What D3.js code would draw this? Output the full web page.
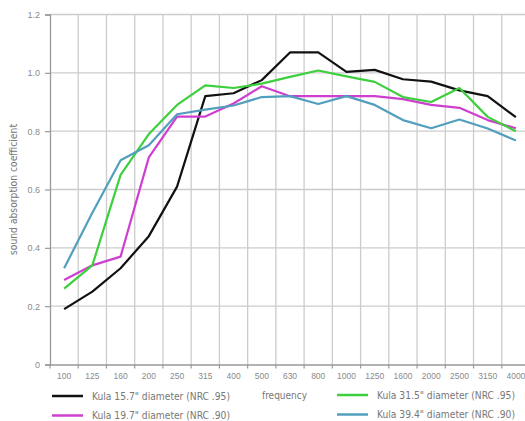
<!DOCTYPE html>
<html>
<head>
<meta charset="utf-8">
<script src="https://cdn.jsdelivr.net/npm/d3@7"></script>
<style>
  body { margin: 0; background: #fff; }
  svg { display: block; font-family: "DejaVu Sans", sans-serif; font-stretch: condensed; }
</style>
</head>
<body>
<svg id="chart" width="525" height="421"></svg>
<script>
const frequencies = ['100', '125', '160', '200', '250', '315', '400', '500', '630', '800', '1000', '1250', '1600', '2000', '2500', '3150', '4000'];
const yTicks = [0, 0.2, 0.4, 0.6, 0.8, 1.0, 1.2];

const kula157 = [0.19, 0.25, 0.33, 0.44, 0.61, 0.92, 0.93, 0.975, 1.07, 1.07, 1.003, 1.01, 0.978, 0.97, 0.94, 0.92, 0.848];
const kula197 = [0.29, 0.34, 0.37, 0.71, 0.85, 0.85, 0.895, 0.954, 0.92, 0.92, 0.92, 0.92, 0.91, 0.89, 0.88, 0.838, 0.81];
const kula315 = [0.26, 0.34, 0.65, 0.79, 0.89, 0.957, 0.948, 0.963, 0.986, 1.008, 0.988, 0.969, 0.917, 0.90, 0.948, 0.849, 0.80];
const kula394 = [0.33, 0.52, 0.70, 0.752, 0.858, 0.874, 0.888, 0.917, 0.92, 0.893, 0.92, 0.89, 0.838, 0.81, 0.84, 0.809, 0.768];

const seriesNames = ['Kula 15.7" diameter (NRC .95)', 'Kula 19.7" diameter (NRC .90)', 'Kula 31.5" diameter (NRC .95)', 'Kula 39.4" diameter (NRC .90)'];
const seriesColors = ['#111111', '#cf3fcf', '#3dcf3d', '#529fbd'];

const series = [kula157, kula197, kula315, kula394].map((values, i) => ({
    name: seriesNames[i],
    color: seriesColors[i],
    values: values
}));

const margin = {top: 14.5, left: 50, bottom: 364.5, right: 530};

const svg = d3.select('#chart');

const x = d3.scaleBand()
    .domain(frequencies)
    .range([margin.left, margin.right]);

const y = d3.scaleLinear()
    .domain([0, 1.2])
    .range([margin.bottom, margin.top]);

// horizontal grid
svg.append('g')
    .selectAll('line')
    .data(yTicks.slice(1))
    .join('line')
    .attr('x1', margin.left)
    .attr('x2', 525)
    .attr('y1', d => y(d))
    .attr('y2', d => y(d))
    .attr('stroke', '#cccccc')
    .attr('stroke-width', 1.3);

// vertical grid
svg.append('g')
    .selectAll('line')
    .data(frequencies.slice(1))
    .join('line')
    .attr('x1', d => x(d))
    .attr('x2', d => x(d))
    .attr('y1', margin.top)
    .attr('y2', margin.bottom)
    .attr('stroke', '#cccccc')
    .attr('stroke-width', 1.3);

// y axis
svg.append('g')
    .attr('transform', `translate(${margin.left},0)`)
    .call(d3.axisLeft(y)
        .tickValues(yTicks)
        .tickSize(5)
        .tickPadding(5)
        .tickFormat(d => d === 0 ? '0' : d3.format('.1f')(d)))
    .call(g => g.select('.domain').attr('stroke', '#999999').attr('stroke-width', 1.3))
    .call(g => g.selectAll('.tick line').attr('stroke', '#999999').attr('stroke-width', 1.2))
    .call(g => g.selectAll('.tick text').attr('fill', '#8a8a8a').attr('font-size', 9));

// x axis
svg.append('g')
    .attr('transform', `translate(0,${margin.bottom})`)
    .call(d3.axisBottom(x).tickSize(0).tickPadding(8))
    .call(g => g.select('.domain').attr('stroke', '#999999').attr('stroke-width', 1.3))
    .call(g => g.selectAll('.tick text').attr('fill', '#8a8a8a').attr('font-size', 8.5));

svg.append('g')
    .selectAll('line')
    .data(frequencies)
    .join('line')
    .attr('x1', d => x(d))
    .attr('x2', d => x(d))
    .attr('y1', margin.bottom)
    .attr('y2', margin.bottom + 4)
    .attr('stroke', '#999999')
    .attr('stroke-width', 1.2);

// y label
svg.append('text')
    .attr('transform', `translate(17,${(margin.top + margin.bottom) / 2}) rotate(-90)`)
    .attr('text-anchor', 'middle')
    .attr('fill', '#777777')
    .attr('font-size', 10.5)
    .attr('textLength', 131)
    .attr('lengthAdjust', 'spacingAndGlyphs')
    .text('sound absorption coefficient');

// lines
const line = d3.line()
    .x((d, i) => x(frequencies[i]) + x.bandwidth() / 2)
    .y(d => y(d));

svg.append('g')
    .selectAll('path')
    .data(series)
    .join('path')
    .attr('d', d => line(d.values))
    .attr('fill', 'none')
    .attr('stroke', d => d.color)
    .attr('stroke-width', 2.2)
    .attr('stroke-linejoin', 'round');

// legend
const legendPos = [[52, 396], [52, 415.5], [337, 395], [337, 414.5]];
const legend = svg.append('g')
    .selectAll('g')
    .data(series)
    .join('g')
    .attr('transform', (d, i) => `translate(${legendPos[i][0]},${legendPos[i][1]})`);

legend.append('line')
    .attr('x1', 0)
    .attr('x2', 31)
    .attr('stroke', d => d.color)
    .attr('stroke-width', 2.5);

legend.append('text')
    .attr('x', 40)
    .attr('dy', '0.35em')
    .attr('fill', '#777777')
    .attr('font-size', 11)
    .attr('textLength', 138)
    .attr('lengthAdjust', 'spacingAndGlyphs')
    .text(d => d.name);

svg.append('text')
    .attr('x', 262)
    .attr('y', 395)
    .attr('dy', '0.35em')
    .attr('fill', '#777777')
    .attr('font-size', 11)
    .attr('textLength', 45)
    .attr('lengthAdjust', 'spacingAndGlyphs')
    .text('frequency');
</script>
</body>
</html>
